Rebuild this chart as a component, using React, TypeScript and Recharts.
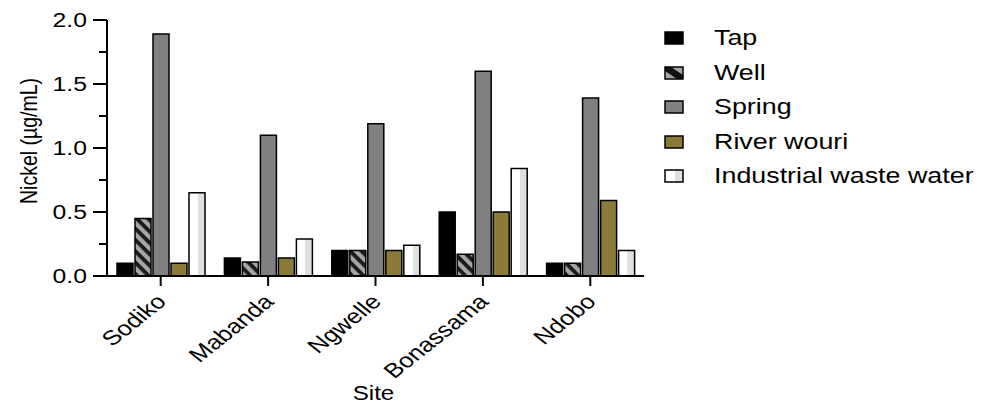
import React from "react";
import { BarChart, Bar, XAxis, YAxis } from "recharts";

const SITES = ["Sodiko", "Mabanda", "Ngwelle", "Bonassama", "Ndobo"];
const TAP = [0.1, 0.14, 0.2, 0.5, 0.1];
const WELL = [0.45, 0.11, 0.2, 0.17, 0.1];
const SPRING = [1.89, 1.1, 1.19, 1.6, 1.39];
const RIVER = [0.1, 0.14, 0.2, 0.5, 0.59];
const INDUSTRIAL = [0.65, 0.29, 0.24, 0.84, 0.2];

const Y_TICKS = [0, 0.25, 0.5, 0.75, 1, 1.25, 1.5, 1.75, 2];
const Y_LABELED = [0, 0.5, 1, 1.5, 2];

const SERIES = [
  { key: "tap", name: "Tap", fill: "#000000" },
  { key: "well", name: "Well", fill: "url(#wellStripes)" },
  { key: "spring", name: "Spring", fill: "#808080" },
  { key: "river", name: "River wouri", fill: "#8c7b38" },
  { key: "industrial", name: "Industrial waste water", fill: "url(#industrialFill)" },
];

const data = SITES.map((site, i) => ({
  site,
  tap: TAP[i],
  well: WELL[i],
  spring: SPRING[i],
  river: RIVER[i],
  industrial: INDUSTRIAL[i],
}));

const FONT = "'Liberation Sans', Arial, sans-serif";

function YTick({ x, y, payload }: any) {
  const major = Y_LABELED.includes(payload.value);
  return (
    <g>
      <line x1={x - (major ? 14 : 8)} x2={x} y1={y} y2={y} stroke="#000" strokeWidth={2} />
      {major && (
        <text
          transform={`translate(${x - 20},${y}) scale(1.27,1)`}
          dy="0.36em"
          textAnchor="end"
          fontFamily={FONT}
          fontSize={19.5}
          fill="#000"
        >
          {payload.value.toFixed(1)}
        </text>
      )}
    </g>
  );
}

function XTick({ x, y, payload }: any) {
  return (
    <text
      transform={`translate(${x + 7},${y + 17}) scale(1.25,1) rotate(-45)`}
      textAnchor="end"
      fontFamily={FONT}
      fontSize={20.5}
      fill="#000"
    >
      {payload.value}
    </text>
  );
}

function Swatch({ k }: { k: string }) {
  const s = { stroke: "#000", strokeWidth: 1.5 };
  return (
    <svg width={20} height={14} style={{ display: "block" }}>
      {k === "tap" && <rect x={1} y={1} width={18} height={12} fill="#000" {...s} />}
      {k === "well" && (
        <g>
          <rect x={1} y={1} width={18} height={12} fill="#a6a6a6" />
          <polygon points="1,1 7,1 19,9 19,13 13,13 1,5" fill="#111" />
          <rect x={1} y={1} width={18} height={12} fill="none" {...s} />
        </g>
      )}
      {k === "spring" && <rect x={1} y={1} width={18} height={12} fill="#808080" {...s} />}
      {k === "river" && <rect x={1} y={1} width={18} height={12} fill="#8c7b38" {...s} />}
      {k === "industrial" && (
        <g>
          <rect x={1} y={1} width={18} height={12} fill="#fff" />
          <rect x={11} y={1} width={8} height={12} fill="#e0e0e0" />
          <rect x={1} y={1} width={18} height={12} fill="none" {...s} />
        </g>
      )}
    </svg>
  );
}

export default function App() {
  return (
    <div
      style={{
        position: "absolute",
        left: 0,
        top: 0,
        width: 995,
        height: 404,
        background: "#fff",
      }}
    >
      <BarChart
        width={995}
        height={404}
        data={data}
        margin={{ top: 20, right: 351, bottom: 0, left: 0 }}
        barCategoryGap={10}
        barGap={2}
      >
        <defs>
          <pattern
            id="wellStripes"
            patternUnits="userSpaceOnUse"
            width={8}
            height={8}
            patternTransform="rotate(45)"
          >
            <rect width={8} height={8} fill="#a6a6a6" />
            <rect width={8} height={3.8} fill="#1a1a1a" />
          </pattern>
          <linearGradient id="industrialFill" x1="0" y1="0" x2="1" y2="0">
            <stop offset="0%" stopColor="#ffffff" />
            <stop offset="55%" stopColor="#ffffff" />
            <stop offset="55%" stopColor="#e0e0e0" />
            <stop offset="100%" stopColor="#e0e0e0" />
          </linearGradient>
        </defs>
        <XAxis
          dataKey="site"
          height={128}
          axisLine={{ stroke: "#000", strokeWidth: 2 }}
          tickLine={{ stroke: "#000", strokeWidth: 2 }}
          tickSize={10}
          tickMargin={0}
          tick={<XTick />}
          interval={0}
          label={{
            content: ({ viewBox }: any) => (
              <text
                transform={`translate(${viewBox.x + viewBox.width / 2 - 2},${viewBox.y + viewBox.height - 4}) scale(1.15,1)`}
                textAnchor="middle"
                fontFamily={FONT}
                fontSize={21}
                fill="#000"
              >
                Site
              </text>
            ),
          }}
        />
        <YAxis
          width={107}
          domain={[0, 2]}
          ticks={Y_TICKS}
          interval={0}
          axisLine={{ stroke: "#000", strokeWidth: 2 }}
          tickLine={false}
          tickSize={0}
          tickMargin={0}
          tick={<YTick />}
          label={{
            content: ({ viewBox }: any) => (
              <text
                transform={`translate(37,${viewBox.y + viewBox.height / 2 - 7}) scale(1.2,1) rotate(-90)`}
                textAnchor="middle"
                fontFamily={FONT}
                fontSize={19.5}
                fill="#000"
              >
                Nickel (µg/mL)
              </text>
            ),
          }}
        />
        {SERIES.map((s) => (
          <Bar
            key={s.key}
            dataKey={s.key}
            name={s.name}
            fill={s.fill}
            stroke="#000"
            strokeWidth={1.5}
            isAnimationActive={false}
          />
        ))}
      </BarChart>
      <div style={{ position: "absolute", left: 664, top: 21 }}>
        {SERIES.map((s) => (
          <div
            key={s.key}
            style={{ display: "flex", alignItems: "center", height: 34.5 }}
          >
            <Swatch k={s.key} />
            <span
              style={{
                marginLeft: 30,
                fontFamily: FONT,
                fontSize: 22,
                display: "inline-block",
                transform: "scale(1.22,1)",
                transformOrigin: "left center",
                whiteSpace: "nowrap",
              }}
            >
              {s.name}
            </span>
          </div>
        ))}
      </div>
    </div>
  );
}
